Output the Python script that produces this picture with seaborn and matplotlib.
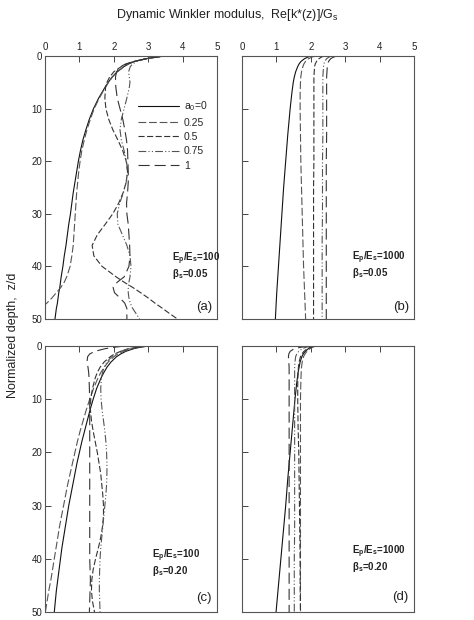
import matplotlib
matplotlib.use("Agg")
import matplotlib.pyplot as plt
import seaborn as sns
import pandas as pd

# ---------------- data ----------------
LABELS = ["a$_0$=0", "0.25", "0.5", "0.75", "1"]
XTICKS = [0, 1, 2, 3, 4, 5]
YTICKS = [0, 10, 20, 30, 40, 50]

# Panel (a): Ep/Es=100, beta=0.05
Z_A = [0, 0.25, 0.5, 1, 1.5, 2, 3, 4, 5, 6, 8, 10, 12, 14, 16, 18, 20, 22, 24, 26,
       28, 30, 32, 34, 36, 38, 40, 42, 43, 44, 45, 46, 47, 48, 49, 50]
A_00 = [3.45, 3.2, 2.95, 2.62, 2.43, 2.3, 2.1, 1.95, 1.84, 1.74, 1.56, 1.41, 1.29, 1.19, 1.1, 1.03, 0.97, 0.92,
        0.87, 0.82, 0.78, 0.74, 0.69, 0.65, 0.61, 0.56, 0.52, 0.47, 0.45, 0.43, 0.40, 0.38, 0.36, 0.33, 0.31, 0.29]
A_025 = [3.45, 3.2, 2.95, 2.62, 2.43, 2.3, 2.1, 1.96, 1.85, 1.75, 1.58, 1.43, 1.32, 1.22, 1.14, 1.07, 1.02, 0.98,
         0.95, 0.92, 0.9, 0.88, 0.86, 0.84, 0.82, 0.78, 0.73, 0.63, 0.56, 0.46, 0.33, 0.2, 0.05, -0.12, -0.3, -0.5]
A_05 = [3.45, 3.2, 2.95, 2.6, 2.38, 2.22, 2.0, 1.88, 1.8, 1.76, 1.74, 1.77, 1.85, 1.97, 2.12, 2.26, 2.36, 2.4,
        2.36, 2.27, 2.14, 1.97, 1.75, 1.52, 1.37, 1.42, 1.66, 2.07, 2.3, 2.55, 2.78, 3.0, 3.2, 3.42, 3.63, 3.85]
A_075 = [3.45, 3.2, 2.95, 2.68, 2.55, 2.48, 2.43, 2.45, 2.47, 2.45, 2.38, 2.3, 2.22, 2.18, 2.22, 2.3, 2.37, 2.4,
         2.36, 2.28, 2.17, 2.1, 2.12, 2.25, 2.38, 2.47, 2.5, 2.47, 2.44, 2.42, 2.42, 2.44, 2.48, 2.55, 2.65, 2.75]
A_1 = [3.45, 3.2, 2.95, 2.6, 2.35, 2.2, 2.08, 2.05, 2.05, 2.06, 2.1, 2.18, 2.26, 2.32, 2.37, 2.4, 2.41, 2.42,
       2.42, 2.4, 2.37, 2.38, 2.42, 2.44, 2.46, 2.47, 2.44, 2.3, 2.1, 1.98, 2.02, 2.18, 2.32, 2.38, 2.38, 2.38]

# Panel (b): Ep/Es=1000, beta=0.05
Z_B = [0, 0.25, 0.5, 1, 1.5, 2, 3, 4, 5, 7, 10, 15, 20, 25, 30, 35, 40, 45, 50]
B_00 = [2.0, 1.9, 1.82, 1.72, 1.66, 1.62, 1.56, 1.52, 1.49, 1.45, 1.4, 1.33, 1.27, 1.21, 1.16, 1.11, 1.06, 1.01, 0.97]
B_025 = [2.12, 2.02, 1.94, 1.85, 1.8, 1.77, 1.73, 1.71, 1.7, 1.69, 1.69, 1.7, 1.71, 1.73, 1.75, 1.77, 1.79, 1.82, 1.85]
B_05 = [2.38, 2.3, 2.24, 2.17, 2.13, 2.11, 2.1, 2.09, 2.09, 2.09, 2.09, 2.09, 2.09, 2.08, 2.08, 2.08, 2.08, 2.08, 2.08]
B_075 = [2.6, 2.52, 2.46, 2.41, 2.38, 2.37, 2.36, 2.35, 2.35, 2.35, 2.35, 2.35, 2.34, 2.34, 2.34, 2.33, 2.33, 2.33, 2.33]
B_1 = [2.75, 2.65, 2.58, 2.52, 2.49, 2.48, 2.47, 2.46, 2.46, 2.46, 2.46, 2.46, 2.45, 2.45, 2.45, 2.45, 2.45, 2.45, 2.45]

# Panel (c): Ep/Es=100, beta=0.20
Z_C = [0, 0.25, 0.5, 1, 1.5, 2, 3, 4, 5, 6, 8, 10, 12, 14, 16, 18, 20, 22, 24, 26, 28, 30,
       32, 34, 36, 38, 40, 42, 44, 46, 48, 50]
C_00 = [3.0, 2.75, 2.58, 2.35, 2.2, 2.08, 1.92, 1.8, 1.71, 1.63, 1.5, 1.4, 1.31, 1.23, 1.15, 1.07, 1.0, 0.93,
        0.87, 0.81, 0.75, 0.69, 0.64, 0.59, 0.54, 0.49, 0.45, 0.41, 0.37, 0.33, 0.3, 0.27]
C_025 = [3.0, 2.72, 2.52, 2.28, 2.12, 2.0, 1.84, 1.72, 1.62, 1.54, 1.41, 1.3, 1.2, 1.11, 1.02, 0.94, 0.87, 0.8,
         0.73, 0.66, 0.6, 0.54, 0.48, 0.42, 0.37, 0.32, 0.27, 0.22, 0.17, 0.11, 0.06, 0.01]
C_05 = [2.95, 2.65, 2.45, 2.2, 2.02, 1.9, 1.72, 1.6, 1.52, 1.46, 1.38, 1.33, 1.32, 1.35, 1.4, 1.46, 1.52, 1.57,
        1.62, 1.65, 1.68, 1.7, 1.7, 1.67, 1.62, 1.55, 1.47, 1.4, 1.36, 1.35, 1.38, 1.44]
C_075 = [2.9, 2.6, 2.42, 2.2, 2.05, 1.94, 1.8, 1.72, 1.67, 1.64, 1.62, 1.63, 1.66, 1.7, 1.74, 1.77, 1.79, 1.8,
         1.8, 1.79, 1.77, 1.74, 1.71, 1.68, 1.65, 1.62, 1.6, 1.59, 1.58, 1.58, 1.59, 1.6]
C_1 = [2.3, 2.0, 1.75, 1.45, 1.3, 1.24, 1.22, 1.25, 1.27, 1.28, 1.29, 1.3, 1.3, 1.3, 1.3, 1.3, 1.3, 1.3,
       1.3, 1.3, 1.3, 1.3, 1.3, 1.3, 1.3, 1.3, 1.3, 1.31, 1.32, 1.31, 1.3, 1.29]

# Panel (d): Ep/Es=1000, beta=0.20
Z_D = [0, 0.25, 0.5, 1, 1.5, 2, 3, 4, 5, 7, 10, 15, 20, 25, 30, 35, 40, 45, 50]
D_00 = [2.1, 2.0, 1.93, 1.84, 1.78, 1.74, 1.69, 1.66, 1.63, 1.59, 1.54, 1.47, 1.4, 1.33, 1.27, 1.2, 1.13, 1.06, 0.99]
D_025 = [2.15, 2.05, 1.98, 1.89, 1.83, 1.79, 1.75, 1.73, 1.72, 1.71, 1.7, 1.7, 1.7, 1.7, 1.7, 1.7, 1.7, 1.7, 1.7]
D_05 = [2.1, 1.98, 1.9, 1.8, 1.74, 1.7, 1.66, 1.64, 1.63, 1.62, 1.62, 1.63, 1.65, 1.66, 1.67, 1.68, 1.69, 1.69, 1.7]
D_075 = [2.0, 1.86, 1.76, 1.65, 1.59, 1.56, 1.54, 1.53, 1.53, 1.53, 1.53, 1.53, 1.53, 1.53, 1.53, 1.53, 1.52, 1.52, 1.52]
D_1 = [1.95, 1.7, 1.52, 1.4, 1.36, 1.35, 1.36, 1.37, 1.37, 1.37, 1.37, 1.37, 1.37, 1.37, 1.37, 1.37, 1.37, 1.37, 1.37]

PANELS = [
    ("(a)", Z_A, [A_00, A_025, A_05, A_075, A_1], "100", "0.05"),
    ("(b)", Z_B, [B_00, B_025, B_05, B_075, B_1], "1000", "0.05"),
    ("(c)", Z_C, [C_00, C_025, C_05, C_075, C_1], "100", "0.20"),
    ("(d)", Z_D, [D_00, D_025, D_05, D_075, D_1], "1000", "0.20"),
]

# ---------------- style ----------------
sns.set_style("ticks")
plt.rcParams["font.family"] = ["Liberation Sans", "DejaVu Sans"]
plt.rcParams["mathtext.fontset"] = "custom"
plt.rcParams["mathtext.rm"] = "Liberation Sans"
plt.rcParams["mathtext.it"] = "Liberation Sans:italic"
plt.rcParams["mathtext.bf"] = "Liberation Sans:bold"
plt.rcParams["mathtext.default"] = "rm"

DASHES = {LABELS[0]: "", LABELS[1]: (7, 2.5), LABELS[2]: (5.5, 2.2),
          LABELS[3]: (7, 2, 1, 2, 1, 2), LABELS[4]: (10, 4.5)}
COLORS = {LABELS[0]: "#111111", LABELS[1]: "#555555", LABELS[2]: "#333333",
          LABELS[3]: "#555555", LABELS[4]: "#333333"}

fig = plt.figure(figsize=(4.74, 6.2), dpi=100)
W, H = 474.0, 620.0
pos = {
    "(a)": [45 / W, 1 - 319 / H, 172 / W, 263 / H],
    "(b)": [242 / W, 1 - 319 / H, 172 / W, 263 / H],
    "(c)": [45 / W, 1 - 612 / H, 172 / W, 266 / H],
    "(d)": [242 / W, 1 - 612 / H, 172 / W, 266 / H],
}
ann = {  # (x of annotation, z line1, z line2, z of panel tag)
    "(a)": (3.69, 38.6, 41.5, 47.7),
    "(b)": (3.20, 38.3, 41.2, 47.7),
    "(c)": (3.11, 39.4, 42.3, 47.4),
    "(d)": (3.20, 38.6, 41.5, 47.2),
}

for tag, zgrid, series, ratio, beta in PANELS:
    ax = fig.add_axes(pos[tag])
    frames = [pd.DataFrame({"z": zgrid, "k": vals, "a0": lab}) for lab, vals in zip(LABELS, series)]
    df = pd.concat(frames, ignore_index=True)
    sns.lineplot(data=df, x="k", y="z", hue="a0", style="a0", hue_order=LABELS, style_order=LABELS,
                 palette=COLORS, dashes=DASHES, estimator=None, orient="y", linewidth=0.8,
                 legend=(tag == "(a)"), ax=ax)
    ax.set_xlim(0, 5)
    ax.set_ylim(50, 0)
    ax.set_xlabel("")
    ax.set_ylabel("")
    ax.set_xticks(XTICKS)
    ax.set_yticks(YTICKS)
    ax.xaxis.tick_top()
    ax.tick_params(axis="both", direction="in", length=4, width=0.7, color="#444444",
                   labelsize=7, labelcolor="#222222", pad=2)
    ax.tick_params(axis="x", pad=3)
    if tag in ("(c)", "(d)"):
        ax.tick_params(axis="x", labeltop=False)
    if tag in ("(b)", "(d)"):
        ax.tick_params(axis="y", labelleft=False)
    for sp in ax.spines.values():
        sp.set_visible(True)
        sp.set_color("#555555")
        sp.set_linewidth(0.8)

    xa, z1, z2, zt = ann[tag]
    ax.text(xa, z1, r"E$_\mathbf{p}$/E$_\mathbf{s}$=" + ratio, fontsize=7, fontweight="bold",
            ha="left", va="center", color="#222222")
    ax.text(xa, z2, r"β$_\mathbf{s}$=" + beta, fontsize=7, fontweight="bold",
            ha="left", va="center", color="#222222")
    ax.text(4.85, zt, tag, fontsize=9.5, ha="right", va="center", color="#222222")

    if tag == "(a)":
        handles, labels = ax.get_legend_handles_labels()
        hl = [(h, l) for h, l in zip(handles, labels) if l in LABELS]
        ax.legend([h for h, _ in hl], [l for _, l in hl], frameon=False, loc="upper left",
                  bbox_to_anchor=(0.54, 0.835), borderaxespad=0, borderpad=0,
                  handlelength=3.9, handletextpad=0.5, labelspacing=0.42, fontsize=7.5)

fig.text(227 / W, 1 - 15 / H, r"Dynamic Winkler modulus,  Re[k*(z)]/G$_s$", ha="center", va="center",
         fontsize=9, color="#222222")
fig.text(13 / W, 1 - 335 / H, "Normalized depth,  z/d", rotation=90, ha="center", va="center",
         fontsize=9, color="#222222")

fig.savefig("out.png", dpi=100, facecolor="white")
